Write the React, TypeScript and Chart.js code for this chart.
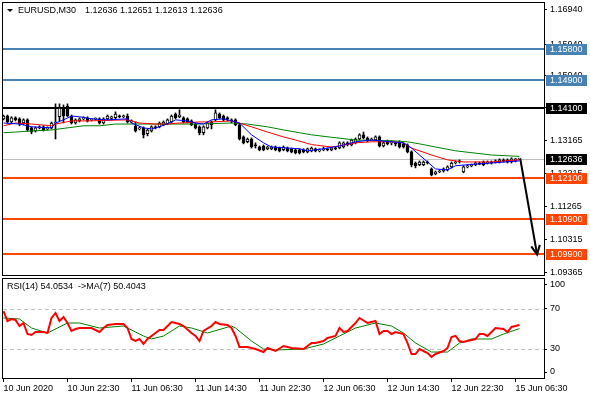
import React, { useEffect, useRef } from 'react';
import { Chart, registerables } from 'chart.js';

Chart.register(...registerables);

const FONT = '"Liberation Sans", Arial, sans-serif';

// ---------- data ----------
const symbolLabel = 'EURUSD,M30';
const ohlcLabel = '1.12636 1.12651 1.12613 1.12636';
const rsiLabel = 'RSI(14) 54.0534  ->MA(7) 50.4043';
const lastPrice = 1.12636;

const opens = [
  1.1379, 1.1387, 1.1370, 1.1382, 1.1379, 1.1367, 1.1376, 1.1353, 1.1344, 1.1353,
  1.1356, 1.1350, 1.1353, 1.1367, 1.1385, 1.1410, 1.1416, 1.1387, 1.1367, 1.1373,
  1.1379, 1.1382, 1.1376, 1.1378, 1.1379, 1.1367, 1.1379, 1.1380, 1.1382, 1.1387,
  1.1385, 1.1387, 1.1370, 1.1358, 1.1350, 1.1353, 1.1336, 1.1344, 1.1356, 1.1356,
  1.1362, 1.1364, 1.1370, 1.1393, 1.1385, 1.1382, 1.1379, 1.1373, 1.1364, 1.1356,
  1.1339, 1.1353, 1.1370, 1.1376, 1.1393, 1.1387, 1.1382, 1.1376, 1.1376, 1.1362,
  1.1327, 1.1313, 1.1321, 1.1304, 1.1298, 1.1301, 1.1293, 1.1293, 1.1298, 1.1295,
  1.1290, 1.1295, 1.1293, 1.1290, 1.1290, 1.1290, 1.1284, 1.1287, 1.1293, 1.1287,
  1.1290, 1.1293, 1.1290, 1.1295, 1.1295, 1.1298, 1.1310, 1.1304, 1.1310, 1.1321,
  1.1333, 1.1324, 1.1318, 1.1318, 1.1327, 1.1301, 1.1316, 1.1310, 1.1310, 1.1313,
  1.1307, 1.1304, 1.1284, 1.1252, 1.1247, 1.1247, 1.1255, 1.1235, 1.1221, 1.1226,
  1.1229, 1.1232, 1.1241, 1.1252, 1.1255, 1.1226, 1.1241, 1.1244, 1.1247, 1.1252,
  1.1247, 1.1252, 1.1255, 1.1255, 1.1255, 1.1261, 1.1261, 1.1255, 1.1258, 1.12636,
];
const highs = [
  1.1390, 1.1390, 1.1385, 1.1385, 1.1382, 1.1379, 1.1379, 1.1356, 1.1356, 1.1359,
  1.1359, 1.1356, 1.1370, 1.1422, 1.1422, 1.1419, 1.1422, 1.1390, 1.1379, 1.1382,
  1.1385, 1.1385, 1.1379, 1.1382, 1.1382, 1.1382, 1.1390, 1.1387, 1.1399, 1.1390,
  1.1390, 1.1393, 1.1376, 1.1370, 1.1356, 1.1356, 1.1350, 1.1359, 1.1359, 1.1370,
  1.1373, 1.1379, 1.1390, 1.1396, 1.1405, 1.1385, 1.1382, 1.1376, 1.1367, 1.1359,
  1.1359, 1.1370, 1.1373, 1.1405, 1.1396, 1.1390, 1.1385, 1.1379, 1.1379, 1.1364,
  1.1330, 1.1324, 1.1324, 1.1310, 1.1301, 1.1304, 1.1301, 1.1301, 1.1301, 1.1298,
  1.1301, 1.1298, 1.1295, 1.1293, 1.1293, 1.1293, 1.1295, 1.1298, 1.1295, 1.1293,
  1.1298, 1.1295, 1.1298, 1.1298, 1.1313, 1.1313, 1.1313, 1.1321, 1.1324, 1.1336,
  1.1341, 1.1327, 1.1324, 1.1330, 1.1330, 1.1313, 1.1318, 1.1316, 1.1313, 1.1316,
  1.1310, 1.1307, 1.1287, 1.1255, 1.1258, 1.1258, 1.1258, 1.1238, 1.1229, 1.1232,
  1.1238, 1.1244, 1.1255, 1.1258, 1.1261, 1.1244, 1.1247, 1.1249, 1.1255, 1.1255,
  1.1258, 1.1258, 1.1258, 1.1261, 1.1264, 1.1264, 1.1264, 1.1267, 1.1265, 1.12651,
];
const lows = [
  1.1376, 1.1367, 1.1367, 1.1373, 1.1359, 1.1362, 1.1344, 1.1336, 1.1341, 1.1350,
  1.1344, 1.1347, 1.1350, 1.1321, 1.1373, 1.1367, 1.1385, 1.1364, 1.1364, 1.1370,
  1.1376, 1.1370, 1.1373, 1.1376, 1.1364, 1.1364, 1.1376, 1.1376, 1.1379, 1.1382,
  1.1382, 1.1367, 1.1367, 1.1341, 1.1347, 1.1324, 1.1330, 1.1341, 1.1350, 1.1353,
  1.1359, 1.1362, 1.1367, 1.1379, 1.1382, 1.1367, 1.1367, 1.1359, 1.1350, 1.1333,
  1.1333, 1.1350, 1.1350, 1.1373, 1.1379, 1.1373, 1.1373, 1.1367, 1.1359, 1.1318,
  1.1307, 1.1310, 1.1295, 1.1295, 1.1287, 1.1287, 1.1290, 1.1290, 1.1287, 1.1284,
  1.1287, 1.1284, 1.1281, 1.1278, 1.1278, 1.1281, 1.1281, 1.1284, 1.1284, 1.1284,
  1.1287, 1.1287, 1.1287, 1.1290, 1.1293, 1.1295, 1.1301, 1.1301, 1.1307, 1.1318,
  1.1321, 1.1313, 1.1316, 1.1316, 1.1298, 1.1298, 1.1304, 1.1304, 1.1301, 1.1295,
  1.1295, 1.1281, 1.1241, 1.1238, 1.1244, 1.1244, 1.1249, 1.1215, 1.1218, 1.1224,
  1.1226, 1.1229, 1.1238, 1.1249, 1.1252, 1.1224, 1.1238, 1.1241, 1.1244, 1.1247,
  1.1244, 1.1249, 1.1249, 1.1252, 1.1252, 1.1255, 1.1252, 1.1252, 1.1255, 1.12613,
];
const closes = [
  1.1387, 1.1370, 1.1382, 1.1376, 1.1364, 1.1376, 1.1347, 1.1341, 1.1353, 1.1356,
  1.1347, 1.1353, 1.1367, 1.1370, 1.1410, 1.1387, 1.1387, 1.1367, 1.1376, 1.1379,
  1.1382, 1.1373, 1.1376, 1.1380, 1.1367, 1.1379, 1.1387, 1.1385, 1.1393, 1.1385,
  1.1387, 1.1370, 1.1373, 1.1344, 1.1353, 1.1333, 1.1347, 1.1356, 1.1353, 1.1367,
  1.1370, 1.1376, 1.1387, 1.1382, 1.1390, 1.1370, 1.1370, 1.1362, 1.1353, 1.1339,
  1.1356, 1.1367, 1.1362, 1.1396, 1.1382, 1.1376, 1.1379, 1.1373, 1.1362, 1.1321,
  1.1310, 1.1321, 1.1298, 1.1301, 1.1290, 1.1290, 1.1298, 1.1298, 1.1290, 1.1287,
  1.1298, 1.1287, 1.1284, 1.1281, 1.1281, 1.1284, 1.1293, 1.1295, 1.1287, 1.1290,
  1.1293, 1.1290, 1.1295, 1.1293, 1.1310, 1.1310, 1.1304, 1.1318, 1.1321, 1.1333,
  1.1324, 1.1316, 1.1321, 1.1327, 1.1301, 1.1310, 1.1307, 1.1313, 1.1307, 1.1298,
  1.1298, 1.1284, 1.1247, 1.1244, 1.1255, 1.1255, 1.1252, 1.1218, 1.1226, 1.1229,
  1.1235, 1.1241, 1.1252, 1.1255, 1.1258, 1.1241, 1.1244, 1.1247, 1.1252, 1.1249,
  1.1255, 1.1255, 1.1252, 1.1258, 1.1261, 1.1258, 1.1255, 1.1264, 1.1264, 1.12636,
];

// moving averages on price: [bar index, value]
const maFast = [
  [0, 1.1367], [4, 1.1364], [7, 1.1356], [12, 1.1353], [13, 1.1367], [15, 1.1376], [17, 1.1387],
  [19, 1.1385], [22, 1.1379], [26, 1.1376], [31, 1.1379], [32, 1.1367], [35, 1.1353], [37, 1.1350],
  [39, 1.1356], [42, 1.1370], [43, 1.1376], [46, 1.1373], [48, 1.1367], [50, 1.1364], [52, 1.1376],
  [55, 1.1379], [57, 1.1373], [59, 1.1367], [62, 1.1333], [65, 1.1310], [67, 1.1298], [71, 1.1295],
  [74, 1.1293], [76, 1.1287], [80, 1.1293], [84, 1.1301], [88, 1.1313], [92, 1.1318], [97, 1.1313],
  [100, 1.1310], [102, 1.1295], [106, 1.1255], [108, 1.1235], [111, 1.1232], [113, 1.1244],
  [116, 1.1247], [122, 1.1252], [129, 1.1258],
];
const maMid = [
  [0, 1.1359], [3, 1.1367], [7, 1.1364], [12, 1.1359], [13, 1.1364], [17, 1.1373], [21, 1.1373],
  [31, 1.1376], [34, 1.1367], [38, 1.1364], [41, 1.1364], [44, 1.1367], [49, 1.1370], [52, 1.1370],
  [57, 1.1373], [59, 1.1367], [62, 1.1356], [66, 1.1341], [70, 1.1327], [73, 1.1318], [77, 1.1305],
  [82, 1.1298], [84, 1.1301], [88, 1.1310], [92, 1.1313], [97, 1.1313], [100, 1.1310], [102, 1.1295],
  [107, 1.1275], [111, 1.1261], [115, 1.1255], [122, 1.1255], [129, 1.1261],
];
const maSlow = [
  [0, 1.1339], [3, 1.1341], [7, 1.1344], [12, 1.1347], [16, 1.1353], [20, 1.1359], [24, 1.1359],
  [28, 1.1364], [32, 1.1364], [41, 1.1364], [49, 1.1364], [57, 1.1367], [61, 1.1364], [66, 1.1356],
  [70, 1.1347], [74, 1.1339], [77, 1.1333], [82, 1.1326], [88, 1.1318], [97, 1.1316], [101, 1.1313],
  [104, 1.1307], [108, 1.1298], [113, 1.1287], [122, 1.1275], [129, 1.1271],
];

// RSI(14) and its MA(7): [bar index, value]
const rsiPts = [
  [0, 68], [1, 58], [2, 60], [3, 59], [4, 53], [5, 56], [6, 45], [7, 44], [8, 47], [10, 47], [11, 46],
  [12, 61], [13, 66], [14, 58], [15, 62], [16, 56], [17, 48], [18, 50], [19, 51], [21, 51], [22, 51],
  [24, 47], [25, 51], [26, 54], [28, 55], [30, 55], [31, 51], [32, 40], [33, 38], [34, 40], [35, 35],
  [36, 40], [38, 46], [39, 49], [40, 49], [42, 57], [44, 55], [45, 53], [47, 46], [48, 43], [49, 38],
  [50, 48], [52, 53], [53, 57], [54, 55], [56, 54], [57, 51], [58, 43], [59, 32], [61, 32], [63, 30],
  [65, 27], [66, 31], [68, 28], [70, 33], [72, 31], [75, 30], [77, 36], [78, 36], [80, 38], [81, 41],
  [83, 43], [84, 51], [85, 47], [86, 48], [88, 56], [89, 61], [91, 56], [93, 58], [94, 45], [95, 48],
  [96, 48], [97, 45], [98, 47], [100, 45], [101, 36], [102, 25], [103, 25], [104, 30], [106, 26],
  [107, 22], [108, 25], [110, 28], [111, 31], [112, 42], [113, 43], [114, 38], [115, 37], [118, 40],
  [119, 45], [120, 45], [121, 43], [123, 51], [125, 50], [126, 47], [127, 52], [129, 54.0534],
];
const rsiMaPts = [
  [0, 61], [4, 60], [7, 51], [11, 46], [16, 56], [19, 56], [24, 51], [30, 53], [35, 43], [37, 40],
  [40, 43], [44, 53], [47, 51], [51, 46], [57, 53], [58, 51], [62, 38], [65, 30], [68, 29], [75, 30],
  [80, 35], [84, 43], [88, 51], [93, 56], [97, 53], [100, 46], [103, 36], [107, 27], [111, 27],
  [114, 36], [117, 40], [122, 40], [125, 45], [129, 50.4043],
];

// horizontal levels
const levelPrices = [1.158, 1.149, 1.141, 1.121, 1.109, 1.099];
const levelColors = ['#4682b4', '#4682b4', '#000000', '#ff4500', '#ff4500', '#ff4500'];

// arrow (bar index, price)
const arrowFrom = [129.2, 1.12636];
const arrowTo = [133.4, 1.0989];

// axes
const priceTicks = [1.1694, 1.1594, 1.1504, 1.14115, 1.13165, 1.12215, 1.11265, 1.10315, 1.09365];
const timeTickIndex = [0, 16, 32, 48, 64, 80, 96, 112, 128];
const timeTickLabels = [
  '10 Jun 2020', '10 Jun 22:30', '11 Jun 06:30', '11 Jun 14:30', '11 Jun 22:30',
  '12 Jun 06:30', '12 Jun 14:30', '12 Jun 22:30', '15 Jun 06:30',
];
const rsiTickLabels = ['100', '70', '30', '0'];
const rsiLevels = [70, 30];

// ---------- layout constants ----------
const X_MIN = -0.125;
const X_MAX = 135.125;
const AXIS_W = 46;

Chart.defaults.font.family = FONT;
Chart.defaults.font.size = 9;
Chart.defaults.color = '#000';

function noPad(s: any) {
  s.paddingTop = 0;
  s.paddingBottom = 0;
  s.paddingLeft = 0;
  s.paddingRight = 0;
}

function drawFrame(ctx: CanvasRenderingContext2D, a: any) {
  ctx.save();
  ctx.strokeStyle = '#000';
  ctx.lineWidth = 1;
  ctx.strokeRect(a.left - 0.5, a.top - 0.5, a.right - a.left + 1, a.bottom - a.top + 1);
  ctx.restore();
}

const mainOverlay = {
  id: 'mainOverlay',
  beforeDatasetsDraw(chart: any) {
    const { ctx, chartArea: a, scales } = chart;
    const ys = scales.y;
    ctx.save();
    const cy = Math.round(ys.getPixelForValue(lastPrice));
    ctx.fillStyle = '#c0c0c0';
    ctx.fillRect(a.left, cy, a.right - a.left, 1);
    levelPrices.forEach((p, k) => {
      const py = Math.round(ys.getPixelForValue(p));
      ctx.fillStyle = levelColors[k];
      ctx.fillRect(a.left, py - 1, a.right - a.left, 2);
    });
    ctx.restore();
  },
  afterDraw(chart: any) {
    const { ctx, chartArea: a, scales } = chart;
    const xs = scales.x;
    const ys = scales.y;
    ctx.save();
    // arrow
    const x0 = xs.getPixelForValue(arrowFrom[0]);
    const y0 = ys.getPixelForValue(arrowFrom[1]);
    const x1 = xs.getPixelForValue(arrowTo[0]);
    const y1 = ys.getPixelForValue(arrowTo[1]);
    ctx.strokeStyle = '#000';
    ctx.lineWidth = 2;
    ctx.beginPath();
    ctx.moveTo(x0, y0);
    ctx.lineTo(x1, y1);
    ctx.stroke();
    const ang = Math.atan2(y1 - y0, x1 - x0);
    const L = 10;
    ctx.beginPath();
    ctx.moveTo(x1 - L * Math.cos(ang - 0.45), y1 - L * Math.sin(ang - 0.45));
    ctx.lineTo(x1, y1);
    ctx.lineTo(x1 - L * Math.cos(ang + 0.45), y1 - L * Math.sin(ang + 0.45));
    ctx.stroke();
    ctx.restore();

    drawFrame(ctx, a);

    // price label boxes
    ctx.save();
    ctx.font = `9px ${FONT}`;
    ctx.textBaseline = 'middle';
    ctx.textAlign = 'left';
    const box = (p: number, color: string) => {
      const py = Math.round(ys.getPixelForValue(p));
      ctx.fillStyle = color;
      ctx.fillRect(a.right + 2, py - 5, 41, 11);
      ctx.fillStyle = '#ffffff';
      ctx.fillText(p.toFixed(5), a.right + 6, py + 0.5);
    };
    levelPrices.forEach((p, k) => box(p, levelColors[k]));
    box(lastPrice, '#000000');

    // title
    ctx.fillStyle = '#000';
    ctx.beginPath();
    ctx.moveTo(7, 9);
    ctx.lineTo(13, 9);
    ctx.lineTo(10, 12);
    ctx.closePath();
    ctx.fill();
    ctx.fillText(symbolLabel, 18, 11);
    ctx.fillText(ohlcLabel, 85, 11);
    ctx.restore();
  },
};

const rsiOverlay = {
  id: 'rsiOverlay',
  beforeDatasetsDraw(chart: any) {
    const { ctx, chartArea: a, scales } = chart;
    ctx.save();
    ctx.strokeStyle = '#c0c0c0';
    ctx.lineWidth = 1;
    ctx.setLineDash([4, 3]);
    rsiLevels.forEach((v) => {
      const py = Math.round(scales.y.getPixelForValue(v)) + 0.5;
      ctx.beginPath();
      ctx.moveTo(a.left, py);
      ctx.lineTo(a.right, py);
      ctx.stroke();
    });
    ctx.restore();
  },
  afterDraw(chart: any) {
    const { ctx, chartArea: a } = chart;
    drawFrame(ctx, a);
    ctx.save();
    ctx.font = `9px ${FONT}`;
    ctx.fillStyle = '#000';
    ctx.textBaseline = 'middle';
    ctx.textAlign = 'left';
    ctx.fillText(rsiLabel, 7, a.top + 8);
    ctx.restore();
  },
};

const pts = (arr: number[][]) => arr.map(([x, y]) => ({ x, y }));

export default function App() {
  const mainRef = useRef<HTMLCanvasElement>(null);
  const rsiRef = useRef<HTMLCanvasElement>(null);

  useEffect(() => {
    const bodyData = opens.map((o, i) => ({ x: i, y: [o, closes[i]] }));
    const wickData = opens.map((_, i) => ({ x: i, y: [lows[i], highs[i]] }));
    const bodyColors = opens.map((o, i) => (closes[i] >= o ? '#ffffff' : '#000000'));

    const main = new Chart(mainRef.current as HTMLCanvasElement, {
      type: 'bar',
      data: {
        datasets: [
          { type: 'line', data: pts(maFast), borderColor: '#0000ff', borderWidth: 1, pointRadius: 0, tension: 0, order: 0 } as any,
          { type: 'line', data: pts(maMid), borderColor: '#ff0000', borderWidth: 1, pointRadius: 0, tension: 0, order: 0 } as any,
          { type: 'line', data: pts(maSlow), borderColor: '#008000', borderWidth: 1, pointRadius: 0, tension: 0, order: 0 } as any,
          {
            type: 'bar', data: bodyData, backgroundColor: bodyColors, borderColor: '#000000', borderWidth: 1,
            borderSkipped: false, barThickness: 3, minBarLength: 1, grouped: false, order: 1,
          } as any,
          {
            type: 'bar', data: wickData, backgroundColor: '#000000', borderWidth: 0,
            barThickness: 1, grouped: false, order: 2,
          } as any,
        ],
      },
      options: {
        responsive: false,
        animation: false,
        devicePixelRatio: 1,
        events: [],
        layout: { padding: { left: 3, top: 3, right: 0, bottom: 2 } },
        plugins: { legend: { display: false }, tooltip: { enabled: false } },
        scales: {
          x: { type: 'linear', min: X_MIN, max: X_MAX, display: false, offset: false, grid: { offset: false } },
          y: {
            type: 'linear', position: 'right', min: 1.093, max: 1.1712,
            afterFit: (s: any) => { s.width = AXIS_W; noPad(s); },
            afterBuildTicks: (s: any) => { s.ticks = priceTicks.map((v) => ({ value: v })); },
            ticks: { autoSkip: false, padding: 3, color: '#000', font: { size: 9, family: FONT },
              callback: (v: any) => Number(v).toFixed(5) },
            grid: { drawOnChartArea: false, drawTicks: true, tickLength: 3, color: '#000' },
            border: { display: false },
          },
        },
      } as any,
      plugins: [mainOverlay],
    });

    const rsiAnchors = [94, 70, 30, 7]; // label anchor positions inside the pane
    const rsi = new Chart(rsiRef.current as HTMLCanvasElement, {
      type: 'line',
      data: {
        datasets: [
          { data: pts(rsiPts), borderColor: '#ff0000', borderWidth: 2, pointRadius: 0, tension: 0, order: 0 } as any,
          { data: pts(rsiMaPts), borderColor: '#008000', borderWidth: 1, pointRadius: 0, tension: 0, order: 1 } as any,
        ],
      },
      options: {
        responsive: false,
        animation: false,
        devicePixelRatio: 1,
        events: [],
        layout: { padding: { left: 3, top: 2, right: 0, bottom: 0 } },
        plugins: { legend: { display: false }, tooltip: { enabled: false } },
        scales: {
          x: {
            type: 'linear', min: X_MIN, max: X_MAX, position: 'bottom', offset: false,
            afterFit: (s: any) => { s.height = 22; noPad(s); },
            afterBuildTicks: (s: any) => { s.ticks = timeTickIndex.map((v) => ({ value: v })); },
            ticks: {
              autoSkip: false, maxRotation: 0, align: 'start', padding: 1, color: '#000',
              font: { size: 9, family: FONT },
              callback: (v: any) => timeTickLabels[timeTickIndex.indexOf(Number(v))] ?? '',
            },
            grid: { drawOnChartArea: false, drawTicks: true, tickLength: 4, color: '#000' },
            border: { display: false },
          },
          y: {
            type: 'linear', position: 'right', min: 1, max: 100,
            afterFit: (s: any) => { s.width = AXIS_W; noPad(s); },
            afterBuildTicks: (s: any) => { s.ticks = rsiAnchors.map((v) => ({ value: v })); },
            ticks: {
              autoSkip: false, padding: 3, color: '#000', font: { size: 9, family: FONT },
              callback: (v: any) => rsiTickLabels[rsiAnchors.indexOf(Number(v))] ?? '',
            },
            grid: { drawOnChartArea: false, drawTicks: true, tickLength: 3, color: '#000' },
            border: { display: false },
          },
        },
      } as any,
      plugins: [rsiOverlay],
    });

    return () => {
      main.destroy();
      rsi.destroy();
    };
  }, []);

  return (
    <div style={{ position: 'fixed', left: 0, top: 0, width: 590, height: 400, background: '#ffffff' }}>
      <canvas ref={mainRef} width={590} height={277} style={{ position: 'absolute', left: 0, top: 0 }} />
      <canvas ref={rsiRef} width={590} height={123} style={{ position: 'absolute', left: 0, top: 277 }} />
    </div>
  );
}
